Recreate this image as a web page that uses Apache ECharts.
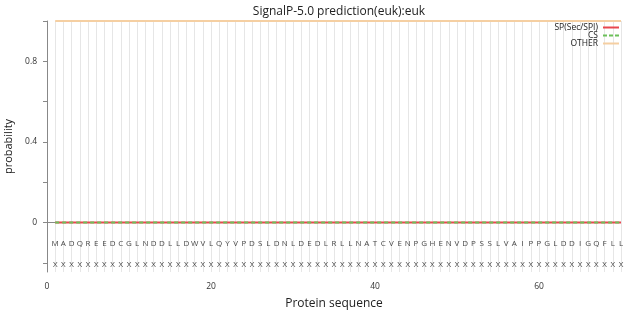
<!DOCTYPE html>
<html>
<head>
<meta charset="utf-8">
<script src="https://cdn.jsdelivr.net/npm/echarts@6/dist/echarts.min.js"></script>
<style>
  html, body { margin: 0; padding: 0; background: #fff; }
  #chart { width: 624px; height: 316px; }
</style>
</head>
<body>
<div id="chart"></div>
<script>
// protein sequence, one residue per position
const sequence = 'MADQREEDCGLNDDLLDWVLQYVPDSLDNLDEDLRLLNATCVENPGHENVDPSSLVAIPPGLDDIGQFLL'.split('')
const positions = sequence.map((_, i) => i + 1)
// predicted probabilities per residue
const spValues = sequence.map(() => 0)
const csValues = sequence.map(() => 0)
const otherValues = sequence.map(() => 1)
const cleavage = sequence.map(() => 'X')
const yTicks = [-0.2, 0, 0.2, 0.4, 0.6, 0.8, 1.0]
const yLabels = [0, 0.4, 0.8]

const chart = echarts.init(document.getElementById('chart'))
const font = '"Open Sans", Lato, sans-serif'

const lineIcon = 'path://M0,0h16v2h-16z'
const dashIcon = 'path://M0,0h4v2h-4z M6,0h4v2h-4z M12,0h4v2h-4z'

function pairs(vals) {
  return positions.map((p, i) => [p, vals[i]])
}

function letterSeries(y, names) {
  return {
    type: 'scatter',
    symbolSize: 0,
    silent: true,
    z: 10,
    labelLayout: { hideOverlap: false },
    data: positions.map((p, i) => ({ value: [p, y], name: names[i] })),
    label: {
      show: true, position: 'inside', fontSize: 8, color: '#111',
      fontFamily: font,
      formatter: p => p.name
    }
  }
}

const option = {
  animation: false,
  textStyle: { fontFamily: font },
  title: {
    text: 'SignalP-5.0 prediction(euk):euk',
    left: 334,
    textAlign: 'center',
    top: 1,
    textStyle: { fontSize: 12, fontWeight: 'normal', color: '#222', fontFamily: font }
  },
  legend: {
    orient: 'vertical',
    right: 0,
    top: 18,
    align: 'right',
    itemGap: -1,
    itemWidth: 16,
    itemHeight: 8,
    textStyle: { fontSize: 8.5, color: '#222', lineHeight: 9, padding: [0, 0, 0, 0] },
    data: [
      { name: 'SP(Sec/SPI)', icon: lineIcon },
      { name: 'CS', icon: dashIcon },
      { name: 'OTHER', icon: lineIcon }
    ]
  },
  grid: { left: 47, right: 3, top: 21, bottom: 44, outerBoundsMode: 'none' },
  xAxis: {
    type: 'value',
    min: 0,
    max: 70,
    interval: 10,
    offset: 5,
    name: 'Protein sequence',
    nameLocation: 'middle',
    nameGap: 21,
    nameTextStyle: { fontSize: 12, color: '#222' },
    axisLine: { lineStyle: { color: '#888' } },
    axisTick: { length: 4, lineStyle: { color: '#888' } },
    axisLabel: {
      fontSize: 8.5, color: '#333', margin: 5,
      formatter: v => (v % 20 === 0 ? String(v) : '')
    },
    splitLine: { show: false }
  },
  yAxis: {
    type: 'value',
    min: -0.245,
    max: 1.0,
    offset: 5,
    name: 'probability',
    nameLocation: 'middle',
    nameGap: 28,
    nameTextStyle: { fontSize: 11, color: '#222' },
    axisLine: { show: true, lineStyle: { color: '#888' } },
    axisTick: { show: true, length: 4, customValues: yTicks, lineStyle: { color: '#888' } },
    axisLabel: { fontSize: 8.5, color: '#333', margin: 5, customValues: yLabels },
    splitLine: { show: false }
  },
  series: [
    {
      name: 'OTHER',
      type: 'line',
      symbol: 'none',
      data: pairs(otherValues),
      lineStyle: { color: '#f5cfa2', width: 2 },
      itemStyle: { color: '#f5cfa2' },
      z: 3,
      markLine: {
        silent: true,
        symbol: 'none',
        z: 1,
        label: { show: false },
        lineStyle: { color: '#e6e6e6', width: 1, type: 'solid' },
        data: positions.map(p => ({ xAxis: p }))
      }
    },
    {
      name: 'SP(Sec/SPI)',
      type: 'line',
      symbol: 'none',
      data: pairs(spValues),
      lineStyle: { color: '#e8474f', width: 2 },
      itemStyle: { color: '#e8474f' },
      z: 4
    },
    {
      name: 'CS',
      type: 'line',
      symbol: 'none',
      data: pairs(csValues),
      lineStyle: { color: '#6cc05a', width: 2, type: [4, 3] },
      itemStyle: { color: '#6cc05a' },
      z: 5
    },
    letterSeries(-0.104, sequence),
    letterSeries(-0.207, cleavage)
  ]
}

chart.setOption(option)
</script>
</body>
</html>
